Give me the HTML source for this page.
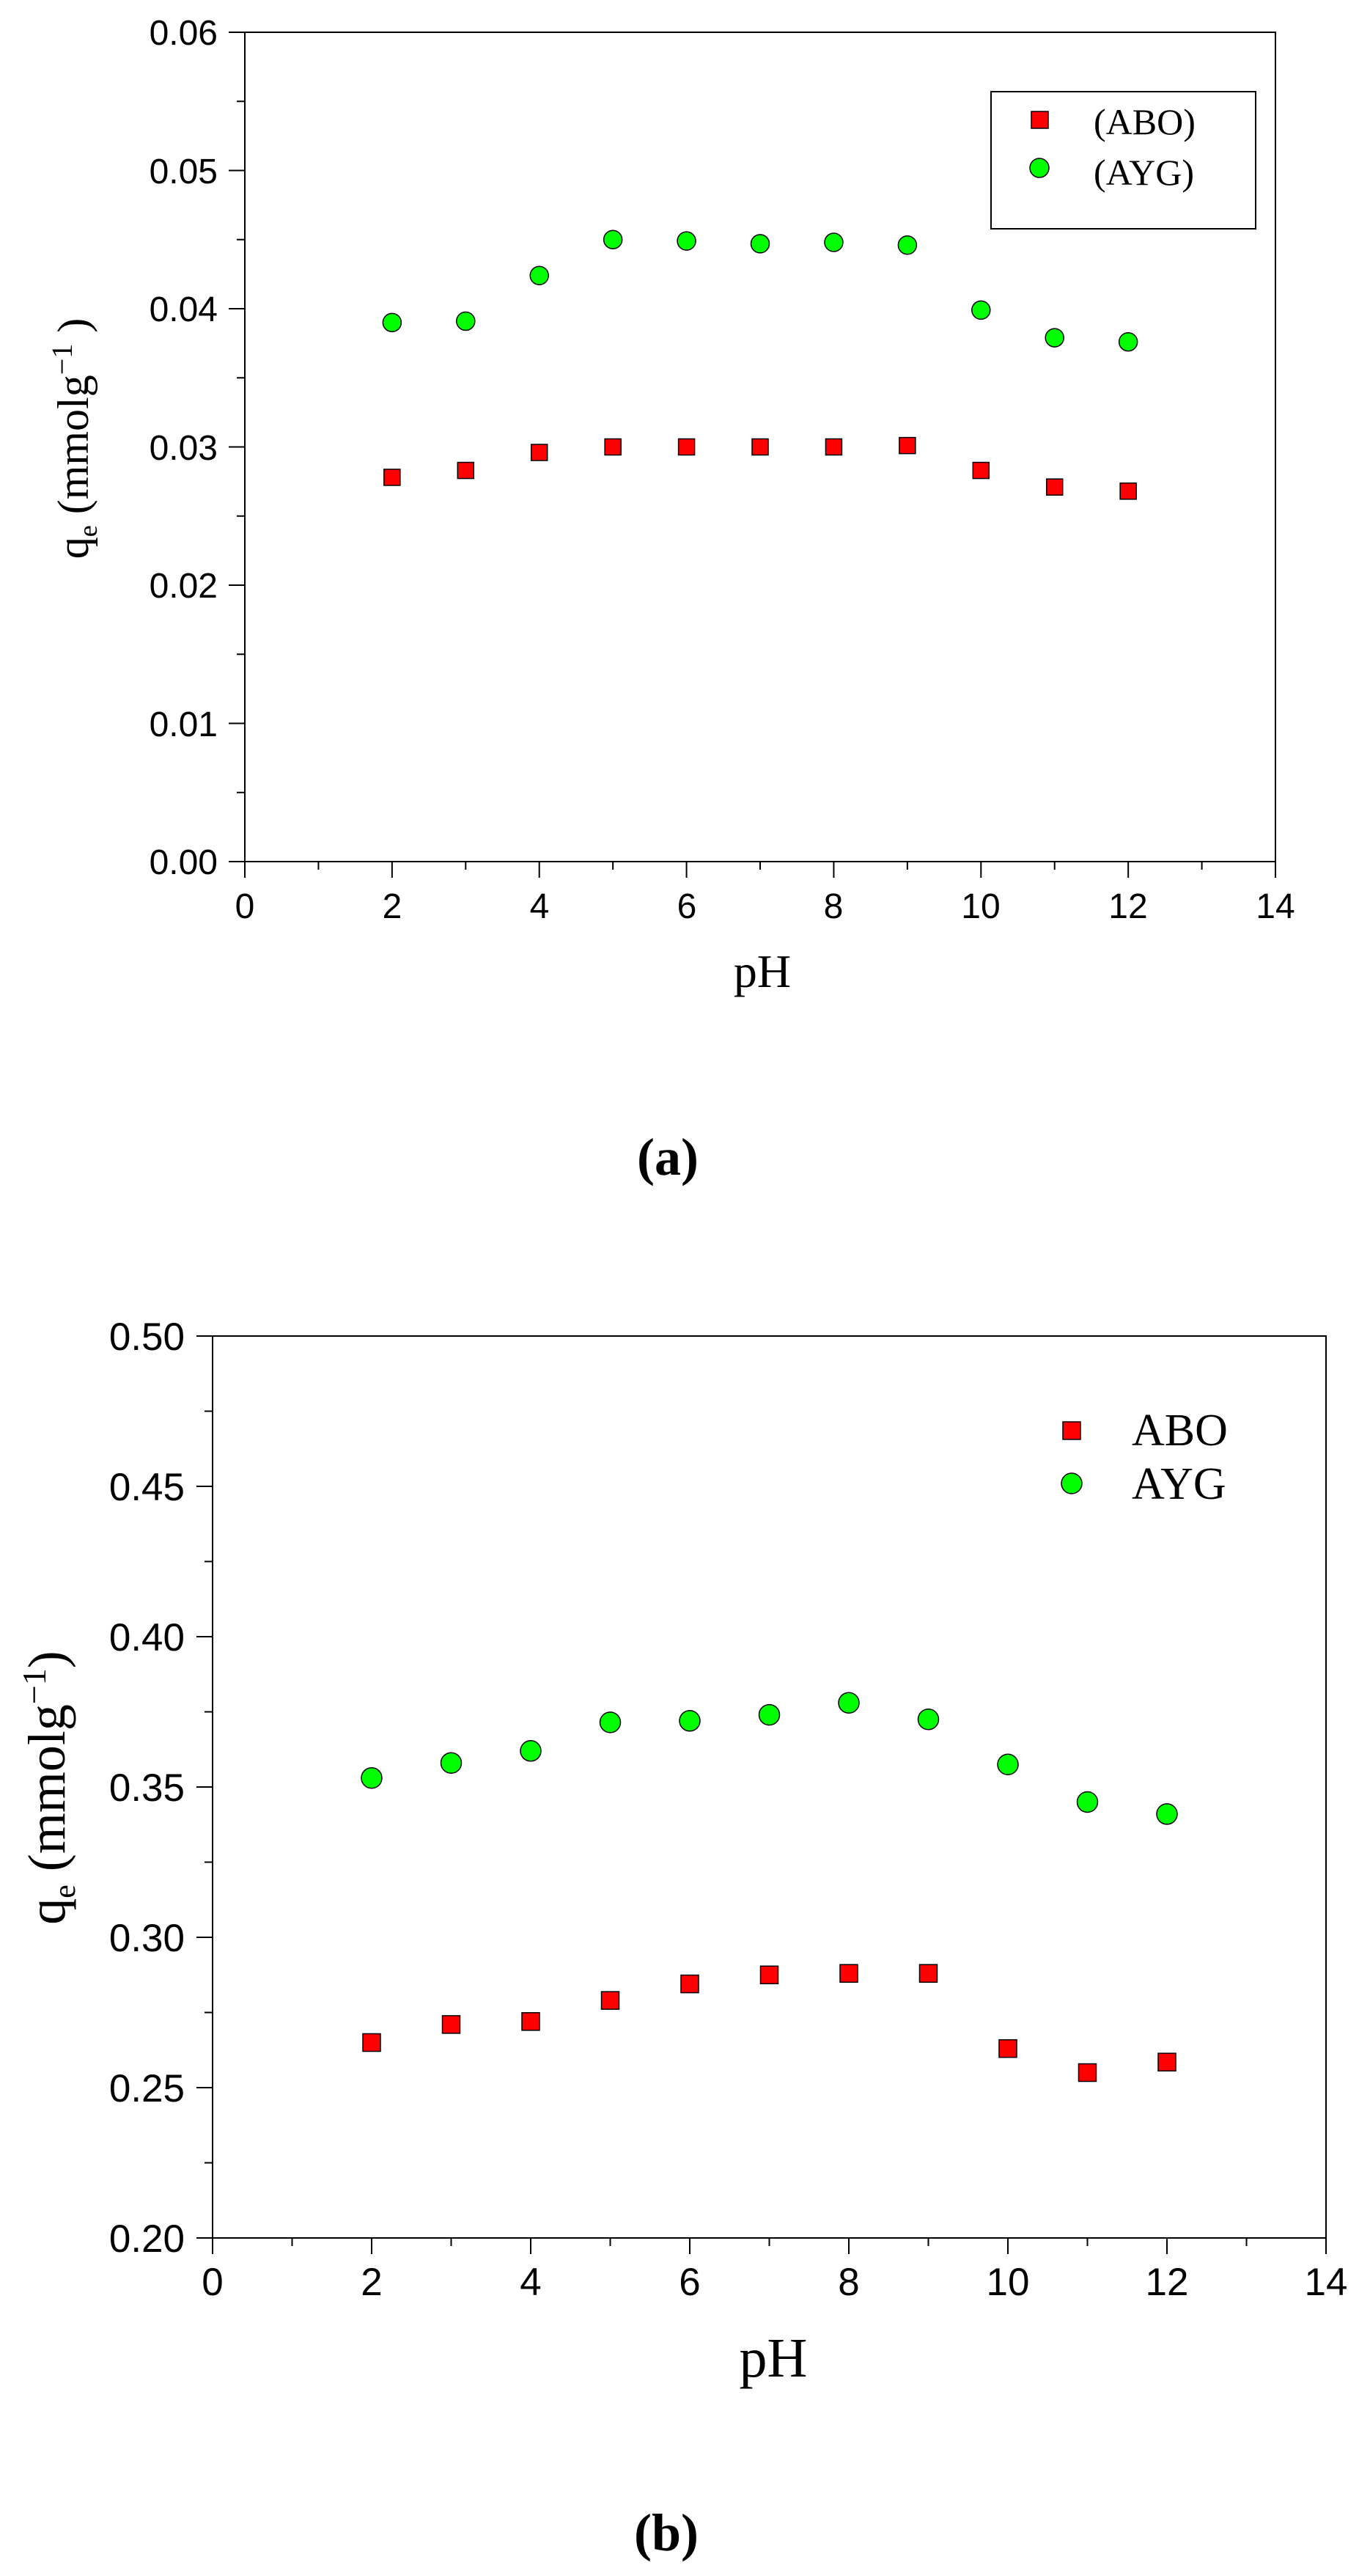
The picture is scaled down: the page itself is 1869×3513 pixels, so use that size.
<!DOCTYPE html>
<html><head><meta charset="utf-8"><style>
html,body{margin:0;padding:0;background:#fff;}
svg{display:block;}
.t{font-family:"Liberation Sans",sans-serif;fill:#000;}
.s{font-family:"Liberation Serif",serif;fill:#000;}
</style></head><body>
<svg id="g" width="1869" height="3513" viewBox="0 0 1869 3513" xmlns="http://www.w3.org/2000/svg">
<rect width="1869" height="3513" fill="#fff"/>
<!-- Plot A -->
<rect x="334" y="44" width="1406" height="1131" fill="none" stroke="#000" stroke-width="2"/>
<g class="t" font-size="48" text-anchor="end">
<text x="297" y="1192">0.00</text><text x="297" y="1004">0.01</text><text x="297" y="815">0.02</text>
<text x="297" y="627">0.03</text><text x="297" y="438">0.04</text><text x="297" y="250">0.05</text><text x="297" y="61">0.06</text>
</g>
<g class="t" font-size="48" text-anchor="middle">
<text x="334" y="1252">0</text><text x="535" y="1252">2</text><text x="736" y="1252">4</text><text x="937" y="1252">6</text>
<text x="1137" y="1252">8</text><text x="1338" y="1252">10</text><text x="1539" y="1252">12</text><text x="1740" y="1252">14</text>
</g>
<text class="s" font-size="64" x="1040" y="1346" text-anchor="middle">pH</text>
<text class="s" font-size="60" transform="translate(120,598) rotate(-90)" text-anchor="middle">q<tspan font-size="36" dy="12">e</tspan><tspan dy="-12"> (mmolg</tspan><tspan font-size="40" dy="-22">−1</tspan><tspan dy="22">  )</tspan></text>
<rect x="1352" y="125" width="361" height="187" fill="none" stroke="#000" stroke-width="2"/>
<rect x="1407" y="152" width="23" height="23" fill="#f00" stroke="#000" stroke-width="1.5"/>
<circle cx="1418" cy="229" r="13" fill="#0f0" stroke="#000" stroke-width="1.5"/>
<text class="s" font-size="50" x="1492" y="183">(ABO)</text>
<text class="s" font-size="50" x="1492" y="252">(AYG)</text>
<text class="s" font-size="72" font-weight="bold" x="911" y="1602" text-anchor="middle">(a)</text>
<!-- Plot B -->
<rect x="290" y="1822" width="1519" height="1230" fill="none" stroke="#000" stroke-width="2"/>
<g class="t" font-size="53" text-anchor="end">
<text x="252" y="3071">0.20</text><text x="252" y="2866">0.25</text><text x="252" y="2661">0.30</text>
<text x="252" y="2456">0.35</text><text x="252" y="2251">0.40</text><text x="252" y="2046">0.45</text><text x="252" y="1841">0.50</text>
</g>
<g class="t" font-size="53" text-anchor="middle">
<text x="290" y="3130">0</text><text x="507" y="3130">2</text><text x="724" y="3130">4</text><text x="941" y="3130">6</text>
<text x="1158" y="3130">8</text><text x="1375" y="3130">10</text><text x="1592" y="3130">12</text><text x="1809" y="3130">14</text>
</g>
<text class="s" font-size="76" x="1055" y="3241" text-anchor="middle">pH</text>
<text class="s" font-size="72" transform="translate(88,2438) rotate(-90)" text-anchor="middle">q<tspan font-size="42" dy="14">e</tspan><tspan dy="-14"> (mmolg</tspan><tspan font-size="46" dy="-26">−1</tspan><tspan dy="26">)</tspan></text>
<rect x="1450" y="1939" width="24" height="24" fill="#f00" stroke="#000" stroke-width="1.5"/>
<circle cx="1462" cy="2023" r="14" fill="#0f0" stroke="#000" stroke-width="1.5"/>
<text class="s" font-size="62" x="1544" y="1971">ABO</text>
<text class="s" font-size="62" x="1544" y="2044">AYG</text>
<text class="s" font-size="72" font-weight="bold" x="909" y="3478" text-anchor="middle">(b)</text>
<g id="dyn"></g>
</svg>
<script>
var NS="http://www.w3.org/2000/svg",g=document.getElementById("dyn");
function el(n,a){var e=document.createElementNS(NS,n);for(var k in a)e.setAttribute(k,a[k]);g.appendChild(e);}
function plot(P){
  for(var i=0;i<=P.ny*2;i++){var y=P.y0-(P.y0-P.y1)*i/(P.ny*2),L=i%2?11:22;el("line",{x1:P.x0-L,y1:y,x2:P.x0,y2:y,stroke:"#000","stroke-width":2});}
  for(var i=0;i<=14;i++){var x=P.x0+P.dx*i,L=i%2?11:22;el("line",{x1:x,y1:P.y0,x2:x,y2:P.y0+L,stroke:"#000","stroke-width":2});}
  var Y=function(v){return P.y0-(v-P.vmin)*P.sy;};
  P.a.forEach(function(v,i){var x=P.x0+P.dx*(i+2),s=P.sq;el("rect",{x:x-s/2,y:Y(v)-s/2,width:s,height:s,fill:"#f00",stroke:"#000","stroke-width":1.5});});
  P.b.forEach(function(v,i){var x=P.x0+P.dx*(i+2);el("circle",{cx:x,cy:Y(v),r:P.r,fill:"#0f0",stroke:"#000","stroke-width":1.5});});
}
plot({x0:334,y0:1175,y1:44,ny:6,dx:100.43,vmin:0,sy:18850,sq:22,r:12.5,
a:[0.0278,0.0283,0.0296,0.0300,0.0300,0.0300,0.0300,0.0301,0.0283,0.0271,0.0268],
b:[0.0390,0.0391,0.0424,0.0450,0.0449,0.0447,0.0448,0.0446,0.0399,0.0379,0.0376]});
plot({x0:290,y0:3052,y1:1822,ny:6,dx:108.5,vmin:0.2,sy:4100,sq:24,r:14,
a:[0.265,0.271,0.272,0.279,0.2845,0.2875,0.288,0.288,0.263,0.255,0.2585],
b:[0.353,0.358,0.362,0.3715,0.372,0.374,0.378,0.3725,0.3575,0.345,0.341]});
</script>
</body></html>
